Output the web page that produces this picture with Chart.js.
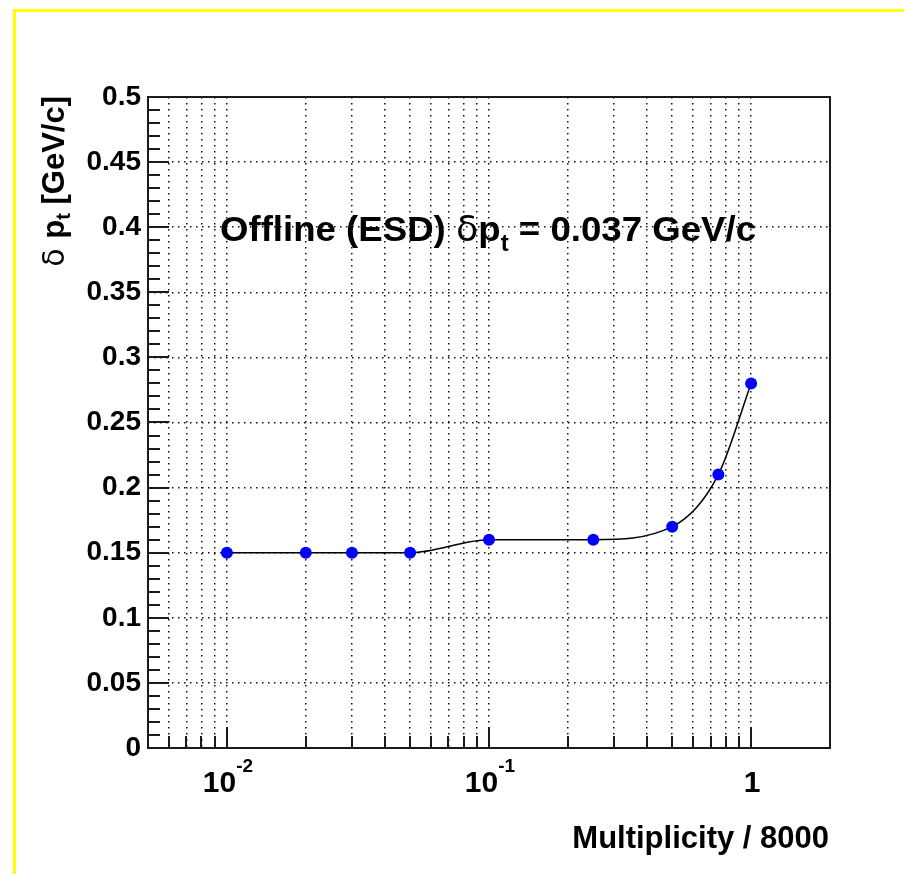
<!DOCTYPE html>
<html>
<head>
<meta charset="utf-8">
<script src="https://cdn.jsdelivr.net/npm/chart.js@4"></script>
<style>
  html, body { margin: 0; padding: 0; background: #fff; }
  canvas { display: block; }
</style>
</head>
<body>
<canvas id="c" width="904" height="874" style="width:904px;height:874px"></canvas>
<script>
// Momentum resolution versus normalised track multiplicity
const multiplicity = [0.01, 0.02, 0.03, 0.05, 0.1, 0.25, 0.5, 0.75, 1];
const deltaPt      = [0.15, 0.15, 0.15, 0.15, 0.16, 0.16, 0.17, 0.21, 0.28];

// Log-axis range, grid/tick positions and decade labels
const xRange = [0.005, 2];
const xGridValues = [
  0.006, 0.007, 0.008, 0.009,
  0.01, 0.02, 0.03, 0.04, 0.05, 0.06, 0.07, 0.08, 0.09,
  0.1, 0.2, 0.3, 0.4, 0.5, 0.6, 0.7, 0.8, 0.9,
  1
];
const xDecadeValues   = [0.01, 0.1, 1];
const xDecadeMantissa = ['10', '10', '1'];
const xDecadeExponent = ['-2', '-1', ''];

// Linear y axis
const yRange = [0, 0.5];
const yMajorStep = 0.05;
const yMinorStep = 0.01;

const FONT = '"Liberation Sans", Arial, Helvetica, sans-serif';
const SYMBOL_FONT = '"DejaVu Sans", "Liberation Sans", sans-serif';

function runsWidth(ctx, runs) {
  let w = 0;
  for (const r of runs) { ctx.font = r.font; w += ctx.measureText(r.text).width; }
  return w;
}
function drawRuns(ctx, runs, x, y) {
  let cx = x;
  for (const r of runs) {
    ctx.font = r.font;
    ctx.fillText(r.text, cx, y + (r.dy || 0));
    cx += ctx.measureText(r.text).width;
  }
}

const frameAndLabels = {
  id: 'frameAndLabels',
  beforeDraw(chart) {
    const ctx = chart.ctx;
    ctx.save();
    ctx.fillStyle = '#ffffff';
    ctx.fillRect(0, 0, chart.width, chart.height);
    // canvas outline along the top and left edges
    ctx.fillStyle = '#ffff00';
    ctx.fillRect(13, 9, chart.width - 13, 3);
    ctx.fillRect(13, 9, 3, chart.height - 9);
    ctx.restore();
  },
  afterDraw(chart) {
    const ctx = chart.ctx;
    const a = chart.chartArea;
    const xs = chart.scales.x, ys = chart.scales.y;
    ctx.save();

    // inward tick marks
    ctx.strokeStyle = '#1a1a1a';
    ctx.lineWidth = 2;
    ctx.beginPath();
    for (let v = yRange[0]; v <= yRange[1] + 1e-9; v += yMinorStep) {
      const isMajor = Math.abs(v / yMajorStep - Math.round(v / yMajorStep)) < 1e-6;
      const py = Math.round(ys.getPixelForValue(v));
      ctx.moveTo(a.left, py);
      ctx.lineTo(a.left + (isMajor ? 21 : 12), py);
    }
    for (const t of xs.ticks) {
      const isMajor = xDecadeValues.includes(t.value);
      const px = Math.round(xs.getPixelForValue(t.value));
      ctx.moveTo(px, a.bottom);
      ctx.lineTo(px, a.bottom - (isMajor ? 21 : 12));
    }
    ctx.stroke();

    // plot frame
    ctx.strokeRect(a.left, a.top, a.right - a.left, a.bottom - a.top);

    ctx.fillStyle = '#000';
    ctx.textAlign = 'left';
    ctx.textBaseline = 'alphabetic';

    // decade labels with exponents
    xDecadeValues.forEach((v, i) => {
      const runs = [{ text: xDecadeMantissa[i], font: 'bold 30px ' + FONT }];
      if (xDecadeExponent[i]) runs.push({ text: xDecadeExponent[i], font: 'bold 19px ' + FONT, dy: -20 });
      const w = runsWidth(ctx, runs);
      const cx = xs.getPixelForValue(v);
      drawRuns(ctx, runs, cx - w / 2 + 1, 792);
    });

    // x axis title
    ctx.font = 'bold 31px ' + FONT;
    ctx.textAlign = 'right';
    ctx.fillText('Multiplicity / 8000', 829, 848);
    ctx.textAlign = 'left';

    // y axis title (rotated)
    const yTitle = [
      { text: 'δ ', font: '30px ' + SYMBOL_FONT },
      { text: 'p', font: 'bold 31px ' + FONT },
      { text: 't', font: 'bold 20px ' + FONT, dy: 6 },
      { text: ' [GeV/c]', font: 'bold 31px ' + FONT }
    ];
    ctx.save();
    ctx.translate(64, 96);
    ctx.rotate(-Math.PI / 2);
    drawRuns(ctx, yTitle, -runsWidth(ctx, yTitle), 0);
    ctx.restore();

    // in-plot annotation
    const note = [
      { text: 'Offline (ESD) ', font: 'bold 35px ' + FONT },
      { text: 'δ', font: '35px ' + SYMBOL_FONT },
      { text: 'p', font: 'bold 35px ' + FONT },
      { text: 't', font: 'bold 23px ' + FONT, dy: 10 },
      { text: ' = 0.037 GeV/c', font: 'bold 35px ' + FONT }
    ];
    ctx.save();
    ctx.translate(220, 241);
    const nw = runsWidth(ctx, note);
    ctx.scale(536 / nw, 1);
    drawRuns(ctx, note, 0, 0);
    ctx.restore();

    ctx.restore();
  }
};

new Chart(document.getElementById('c'), {
  type: 'line',
  data: {
    datasets: [{
      data: multiplicity.map((m, i) => ({ x: m, y: deltaPt[i] })),
      borderColor: '#000',
      borderWidth: 1.5,
      cubicInterpolationMode: 'monotone',
      pointRadius: 6,
      pointHoverRadius: 6,
      pointBackgroundColor: '#0000ff',
      pointBorderWidth: 0,
      fill: false,
      clip: false
    }]
  },
  options: {
    responsive: false,
    animation: false,
    events: [],
    layout: { padding: { top: 97, right: 74, left: 0, bottom: 0 } },
    plugins: { legend: { display: false }, tooltip: { enabled: false }, title: { display: false } },
    scales: {
      x: {
        type: 'logarithmic',
        min: xRange[0],
        max: xRange[1],
        afterBuildTicks: s => { s.ticks = xGridValues.map(v => ({ value: v })); },
        afterFit: s => { s.height = 126; },
        ticks: { display: false },
        grid: { drawTicks: false, color: '#111', lineWidth: 1.5 },
        border: { display: false, dash: [1.5, 4.5] }
      },
      y: {
        min: yRange[0],
        max: yRange[1],
        afterFit: s => { s.width = 148; },
        ticks: {
          stepSize: yMajorStep,
          padding: 7,
          color: '#000',
          font: { family: FONT, size: 28, weight: 'bold' },
          callback: v => String(+v.toFixed(2))
        },
        grid: {
          drawTicks: false,
          lineWidth: 1.5,
          color: c => (c.tick && (c.tick.value <= yRange[0] + 1e-9 || c.tick.value >= yRange[1] - 1e-9)) ? 'rgba(0,0,0,0)' : '#111'
        },
        border: { display: false, dash: [1.5, 4.5] }
      }
    }
  },
  plugins: [frameAndLabels]
});
</script>
</body>
</html>
